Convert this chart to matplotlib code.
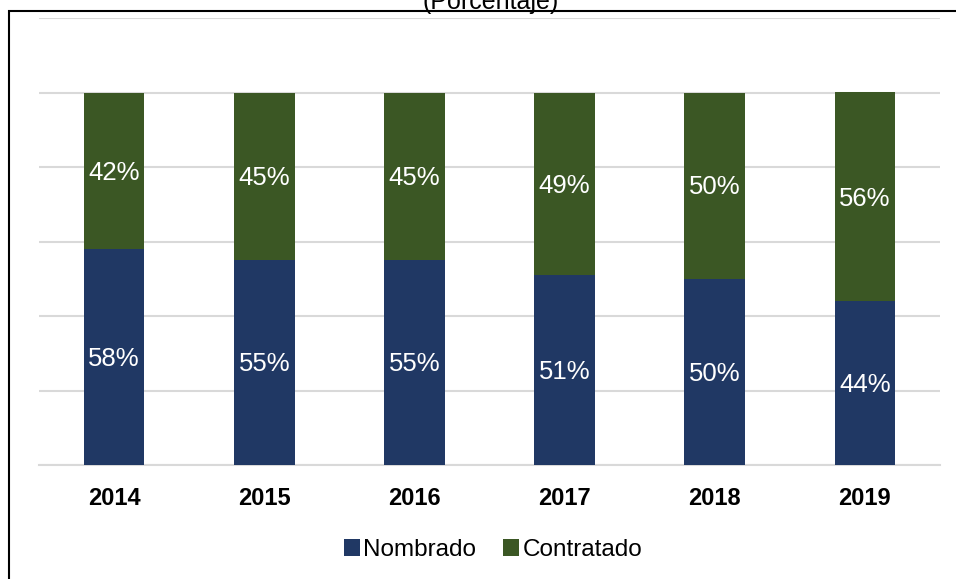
import matplotlib.pyplot as plt
from matplotlib.patches import Rectangle
import numpy as np

# Datos del gráfico
years = ['2014', '2015', '2016', '2017', '2018', '2019']
nombrado = [58, 55, 55, 51, 50, 44]
contratado = [42, 45, 45, 49, 50, 56]

plt.rcParams['font.family'] = ['Liberation Sans', 'DejaVu Sans']

color_nom = '#203864'
color_con = '#3b5724'

fig = plt.figure(figsize=(9.56, 5.79), dpi=100)
ax = fig.add_axes([39 / 956, 1 - 465 / 579, 901 / 956, 447 / 579])

x = np.arange(len(years))
width = 0.405
nom = np.array(nombrado) / 100
con = np.array(contratado) / 100
ax.bar(x, nom, width, color=color_nom, label='Nombrado', zorder=3)
ax.bar(x, con, width, bottom=nom, color=color_con, label='Contratado', zorder=3)

# Etiquetas de porcentaje dentro de las barras
for i in range(len(years)):
    ax.text(x[i], nom[i] / 2 - 0.005, f'{nombrado[i]}%', ha='center', va='center',
            color='white', fontsize=18.5, zorder=4)
    ax.text(x[i], nom[i] + con[i] / 2 - 0.005, f'{contratado[i]}%', ha='center', va='center',
            color='white', fontsize=18.5, zorder=4)

ax.set_xlim(-0.5, len(years) - 0.5)
ax.set_ylim(0, 1.2)
ax.set_yticks(np.arange(0, 1.21, 0.2))
ax.set_yticklabels([])
ax.tick_params(axis='y', length=0)
ax.set_xticks(x)
ax.set_xticklabels(years, fontsize=17, fontweight='bold')
ax.tick_params(axis='x', length=0, pad=16)
ax.grid(axis='y', color='#d9d9d9', linewidth=1.5, zorder=0)
for s in ['top', 'right', 'left']:
    ax.spines[s].set_visible(False)
ax.spines['bottom'].set_color('#d9d9d9')
ax.spines['bottom'].set_linewidth(1.5)

ax.legend(loc='center', bbox_to_anchor=(493 / 956, (579 - 550) / 579), bbox_transform=fig.transFigure,
          ncol=2, frameon=False, fontsize=17.5, handlelength=0.65, handleheight=0.65,
          handletextpad=0.15, columnspacing=1.1)

# Marco y título recortado
fig.patches.append(Rectangle((9 / 956, -0.1), 1.1, 1 - 11 / 579 + 0.1, transform=fig.transFigure,
                             fill=False, edgecolor='black', linewidth=1.5))
fig.text(491 / 956, 1 - 9 / 579, '(Porcentaje)', ha='center', va='baseline', fontsize=18)

fig.savefig('out.png', dpi=100)
